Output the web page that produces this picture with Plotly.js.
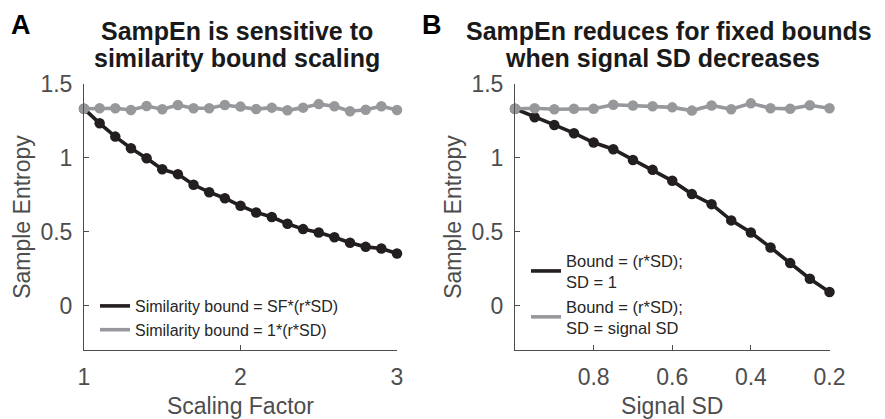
<!DOCTYPE html>
<html>
<head>
<meta charset="utf-8">
<script src="https://cdn.plot.ly/plotly-3.0.1.min.js"></script>
<style>html,body{margin:0;padding:0;background:#fff}#chart{width:885px;height:419px}</style>
</head>
<body>
<div id="chart"></div>
<script>
// ---- Panel A data ----
const scalingFactor = [1.0,1.1,1.2,1.3,1.4,1.5,1.6,1.7,1.8,1.9,2.0,2.1,2.2,2.3,2.4,2.5,2.6,2.7,2.8,2.9,3.0];
const sampEnScaledBound = [1.333,1.234,1.144,1.065,0.998,0.923,0.890,0.818,0.768,0.727,0.676,0.631,0.600,0.554,0.518,0.495,0.463,0.426,0.398,0.387,0.353];
const sampEnUnitBound = [1.333,1.336,1.336,1.324,1.351,1.329,1.358,1.336,1.336,1.358,1.347,1.330,1.340,1.322,1.340,1.364,1.349,1.316,1.326,1.350,1.324];
const scalingFactorTicks = [1,2,3];
const legendA = ['Similarity bound = SF*(r*SD)','Similarity bound = 1*(r*SD)'];

// ---- Panel B data ----
const signalSD = [1.0,0.95,0.9,0.85,0.8,0.75,0.7,0.65,0.6,0.55,0.5,0.45,0.4,0.35,0.3,0.25,0.2];
const sampEnFixedSD = [1.333,1.275,1.223,1.167,1.104,1.059,0.986,0.919,0.845,0.755,0.687,0.577,0.495,0.394,0.288,0.182,0.092];
const sampEnSignalSD = [1.333,1.336,1.329,1.332,1.333,1.360,1.355,1.349,1.342,1.320,1.355,1.329,1.369,1.336,1.332,1.356,1.336];
const signalSDTicks = [0.8,0.6,0.4,0.2];
const legendB = ['Bound = (r*SD);<br>SD = 1','Bound = (r*SD);<br>SD = signal SD'];

const entropyTicks = [0,0.5,1,1.5];
const titlesA = ['SampEn is sensitive to','similarity bound scaling'];
const titlesB = ['SampEn reduces for fixed bounds','when signal SD decreases'];

const BLACK = '#231f20', GRAY = '#97989b';
const FONT = 'Liberation Sans, Arial, Helvetica, sans-serif';

function series(x, y, color, xa, ya, name, legend) {
  return [
    {x: x, y: y, xaxis: xa, yaxis: ya, mode: 'lines', line: {color: color, width: 3.6},
     name: name, legend: legend, showlegend: true, hoverinfo: 'skip', cliponaxis: false},
    {x: x, y: y, xaxis: xa, yaxis: ya, mode: 'markers', marker: {color: color, size: 10.5, line: {width: 0}},
     showlegend: false, hoverinfo: 'skip', cliponaxis: false}
  ];
}

const data = [].concat(
  series(scalingFactor, sampEnScaledBound, BLACK, 'x', 'y', legendA[0], 'legend'),
  series(scalingFactor, sampEnUnitBound, GRAY, 'x', 'y', legendA[1], 'legend'),
  series(signalSD, sampEnFixedSD, BLACK, 'x2', 'y2', legendB[0], 'legend2'),
  series(signalSD, sampEnSignalSD, GRAY, 'x2', 'y2', legendB[1], 'legend2')
);

const W = 885, H = 419;
const tickFont = {family: FONT, size: 23, color: '#4d4d4d'};
const titleFont = {family: FONT, size: 23, color: '#4d4d4d'};
const axisBase = {
  showline: true, linecolor: '#4d4d4d', linewidth: 1, ticks: 'inside', ticklen: 5,
  tickcolor: '#4d4d4d', tickwidth: 1, showgrid: false, zeroline: false,
  tickfont: tickFont, automargin: false, fixedrange: true
};
const yDomain = [1 - 350 / H, 1 - 84 / H];

const layout = {
  width: W, height: H,
  margin: {l: 0, r: 0, t: 0, b: 0},
  paper_bgcolor: '#ffffff', plot_bgcolor: 'rgba(0,0,0,0)',
  showlegend: true,
  xaxis: Object.assign({}, axisBase, {
    domain: [84 / W, 397 / W], range: [1, 3], anchor: 'y',
    tickvals: scalingFactorTicks, ticklabelstandoff: 6,
    title: {text: 'Scaling Factor', font: titleFont, standoff: 12}
  }),
  yaxis: Object.assign({}, axisBase, {
    domain: yDomain, range: [-0.3, 1.5], anchor: 'x',
    tickvals: entropyTicks, ticklabelstandoff: 6,
    title: {text: 'Sample Entropy', font: titleFont, standoff: 3}
  }),
  xaxis2: Object.assign({}, axisBase, {
    domain: [515 / W, 829.5 / W], range: [1, 0.2], anchor: 'y2',
    tickvals: signalSDTicks, ticktext: signalSDTicks.map(v => v.toFixed(1)), ticklabelstandoff: 6,
    title: {text: 'Signal SD', font: titleFont, standoff: 12}
  }),
  yaxis2: Object.assign({}, axisBase, {
    domain: yDomain, range: [-0.3, 1.5], anchor: 'x2',
    tickvals: entropyTicks, ticklabelstandoff: 6,
    title: {text: 'Sample Entropy', font: titleFont, standoff: 3}
  }),
  legend: {
    x: 95 / W, y: 1 - 289 / H, xanchor: 'left', yanchor: 'top',
    bgcolor: 'rgba(0,0,0,0)', borderwidth: 0, tracegroupgap: 0,
    font: {family: FONT, size: 16, color: '#262626'}
  },
  legend2: {
    x: 526 / W, y: 1 - 243 / H, xanchor: 'left', yanchor: 'top',
    bgcolor: 'rgba(0,0,0,0)', borderwidth: 0, tracegroupgap: 0,
    font: {family: FONT, size: 16.5, color: '#262626'}
  },
  annotations: [
    {text: '<b>' + titlesA[0] + '</b>', xref: 'x domain', yref: 'paper', x: 0.49, y: 1 - 31 / H,
     xanchor: 'center', yanchor: 'middle', showarrow: false, font: {family: FONT, size: 25, color: '#1a1a1a'}},
    {text: '<b>' + titlesA[1] + '</b>', xref: 'x domain', yref: 'paper', x: 0.49, y: 1 - 58 / H,
     xanchor: 'center', yanchor: 'middle', showarrow: false, font: {family: FONT, size: 25, color: '#1a1a1a'}},
    {text: '<b>' + titlesB[0] + '</b>', xref: 'x2 domain', yref: 'paper', x: 0.49, y: 1 - 31 / H,
     xanchor: 'center', yanchor: 'middle', showarrow: false, font: {family: FONT, size: 25, color: '#1a1a1a'}},
    {text: '<b>' + titlesB[1] + '</b>', xref: 'x2 domain', yref: 'paper', x: 0.47, y: 1 - 58 / H,
     xanchor: 'center', yanchor: 'middle', showarrow: false, font: {family: FONT, size: 25, color: '#1a1a1a'}},
    {text: '<b>A</b>', xref: 'paper', yref: 'paper', x: 21 / W, y: 1 - 25 / H,
     xanchor: 'center', yanchor: 'middle', showarrow: false, font: {family: FONT, size: 27, color: '#000'}},
    {text: '<b>B</b>', xref: 'paper', yref: 'paper', x: 432 / W, y: 1 - 25 / H,
     xanchor: 'center', yanchor: 'middle', showarrow: false, font: {family: FONT, size: 27, color: '#000'}}
  ]
};

Plotly.newPlot('chart', data, layout, {staticPlot: true, displayModeBar: false});
</script>
</body>
</html>
